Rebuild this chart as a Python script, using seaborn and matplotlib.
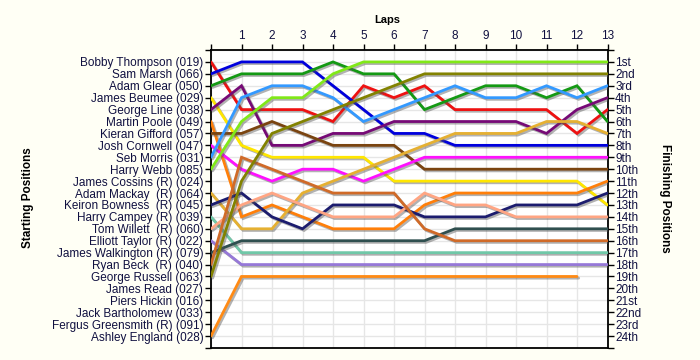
import matplotlib
matplotlib.use("Agg")
import matplotlib.pyplot as plt
import matplotlib.patheffects as pe
import seaborn as sns
import pandas as pd

starters = ["Bobby Thompson (019)", "Sam Marsh (066)", "Adam Glear (050)", "James Beumee (029)",
            "George Line (038)", "Martin Poole (049)", "Kieran Gifford (057)", "Josh Cornwell (047)",
            "Seb Morris (031)", "Harry Webb (085)", "James Cossins (R) (024)", "Adam Mackay  (R) (064)",
            "Keiron Bowness  (R) (045)", "Harry Campey (R) (039)", "Tom Willett  (R) (060)",
            "Elliott Taylor (R) (022)", "James Walkington (R) (079)", "Ryan Beck  (R) (040)",
            "George Russell (063)", "James Read (027)", "Piers Hickin (016)", "Jack Bartholomew (033)",
            "Fergus Greensmith (R) (091)", "Ashley England (028)"]
finish_labels = ["1st", "2nd", "3rd"] + [f"{i}th" for i in range(4, 21)] + ["21st", "22nd", "23rd", "24th"]

# position at lap 0..13
bobby_thompson = [1, 5, 5, 5, 6, 3, 4, 3, 5, 5, 5, 5, 7, 5]
sam_marsh = [2, 1, 1, 1, 3, 5, 7, 7, 8, 8, 8, 8, 8, 8]
adam_glear = [3, 2, 2, 2, 1, 2, 2, 5, 4, 3, 3, 4, 3, 6]
james_beumee = [4, 8, 9, 9, 9, 9, 11, 11, 11, 11, 11, 11, 11, 13]
george_line = [5, 3, 8, 8, 7, 7, 6, 6, 6, 6, 6, 7, 5, 4]
martin_poole = [6, 14, 13, 14, 15, 15, 15, 13, 12, 12, 12, 12, 12, 11]
kieran_gifford = [7, 7, 6, 7, 8, 8, 8, 10, 10, 10, 10, 10, 10, 10]
josh_cornwell = [8, 10, 11, 10, 10, 11, 10, 9, 9, 9, 9, 9, 9, 9]
seb_morris = [9, 4, 3, 3, 4, 6, 5, 4, 3, 4, 4, 3, 4, 3]
harry_webb = [10, 6, 4, 4, 2, 1, 1, 1, 1, 1, 1, 1, 1, 1]
adam_mackay = [12, 15, 15, 12, 11, 10, 9, 8, 7, 7, 7, 6, 6, 7]
keiron_bowness = [13, 12, 14, 15, 13, 13, 13, 14, 14, 14, 13, 13, 13, 12]
harry_campey = [14, 17, 17, 17, 17, 17, 17, 17, 17, 17, 17, 17, 17, 17]
tom_willett = [15, 13, 12, 13, 14, 14, 14, 12, 13, 13, 14, 14, 14, 14]
elliott_taylor = [16, 18, 18, 18, 18, 18, 18, 18, 18, 18, 18, 18, 18, 18]
james_walkington = [17, 16, 16, 16, 16, 16, 16, 16, 15, 15, 15, 15, 15, 15]
ryan_beck = [18, 9, 10, 11, 12, 12, 12, 15, 16, 16, 16, 16, 16, 16]
george_russell = [19, 11, 7, 6, 5, 4, 3, 2, 2, 2, 2, 2, 2, 2]
ashley_england = [24, 19, 19, 19, 19, 19, 19, 19, 19, 19, 19, 19, 19]

runs = {
    "Bobby Thompson": (bobby_thompson, "#ee1111"),
    "Sam Marsh": (sam_marsh, "#0000dd"),
    "Adam Glear": (adam_glear, "#149914"),
    "James Beumee": (james_beumee, "#ffe600"),
    "George Line": (george_line, "#760a76"),
    "Martin Poole": (martin_poole, "#ff7f0a"),
    "Kieran Gifford": (kieran_gifford, "#7a4410"),
    "Josh Cornwell": (josh_cornwell, "#ff10ff"),
    "Seb Morris": (seb_morris, "#3399ff"),
    "Harry Webb": (harry_webb, "#80e818"),
    "Adam Mackay": (adam_mackay, "#e5b032"),
    "Keiron Bowness": (keiron_bowness, "#1c1c6e"),
    "Harry Campey": (harry_campey, "#70c8a8"),
    "Tom Willett": (tom_willett, "#ffa583"),
    "Elliott Taylor": (elliott_taylor, "#9678d8"),
    "James Walkington": (james_walkington, "#2f4f4f"),
    "Ryan Beck": (ryan_beck, "#d06a28"),
    "George Russell": (george_russell, "#828200"),
    "Ashley England": (ashley_england, "#ff8a14"),
}

rows = []
for name, (pos, _) in runs.items():
    for lap, p in enumerate(pos):
        rows.append({"driver": name, "lap": lap, "pos": p})
df = pd.DataFrame(rows)
palette = {name: c for name, (_, c) in runs.items()}

sns.set_style("white")
plt.rcParams["font.family"] = ["Liberation Sans", "DejaVu Sans"]
txt = "#101040"

fig = plt.figure(figsize=(7, 3.6), dpi=100, facecolor="#fffff5")
ax = fig.add_axes([211 / 700, 1 - 348 / 360, (607.5 - 211) / 700, (348 - 50) / 360])
ax.set_facecolor("white")

sns.lineplot(data=df, x="lap", y="pos", hue="driver", palette=palette, legend=False,
             estimator=None, sort=False, linewidth=2.0, ax=ax, zorder=3)
for ln in ax.lines:
    ln.set_path_effects([pe.SimpleLineShadow(offset=(1.2, -1.2), shadow_color="#555555", alpha=0.45),
                         pe.Normal()])
    ln.set_solid_joinstyle("miter")

ax.set_xlim(0, 13)
ax.set_ylim(25, 0)
ax.set_xticks(range(0, 14))
ax.set_xticklabels([""] + [str(i) for i in range(1, 14)])
ax.xaxis.tick_top()
ax.set_yticks(range(0, 26))
ax.set_yticklabels([""] + starters + [""])
ax.grid(True, color="#e6e6e6", linewidth=1, zorder=0)
ax.set_axisbelow(True)
ax.set_xlabel("")
ax.set_ylabel("")
ax.tick_params(axis="both", labelsize=8.5, labelcolor=txt, length=4, width=1, color="black", pad=1.5)
ax.tick_params(axis="x", pad=2)
for s in ["left", "right", "top", "bottom"]:
    ax.spines[s].set_color("black")
    ax.spines[s].set_linewidth(1.3)

ax2 = ax.twinx()
ax2.set_ylim(25, 0)
ax2.set_yticks(range(0, 26))
ax2.set_yticklabels([""] + finish_labels + [""])
ax2.tick_params(axis="y", labelsize=8.5, labelcolor=txt, length=4, width=1, color="black", pad=1.5)
for s in ["left", "right", "top", "bottom"]:
    ax2.spines[s].set_visible(False)

fig.text(387 / 700, 1 - 20 / 360, "Laps", ha="center", va="center", fontsize=8,
         fontweight="bold", color="black")
fig.text(28 / 700, 1 - 198 / 360, "Starting Positions", rotation=90, ha="center", va="center",
         fontsize=8.5, fontweight="bold", color="black")
fig.text(665 / 700, 1 - 198 / 360, "Finishing Positions", rotation=270, ha="center", va="center",
         fontsize=8.5, fontweight="bold", color="black")

fig.savefig("out.png", dpi=100, facecolor=fig.get_facecolor())
